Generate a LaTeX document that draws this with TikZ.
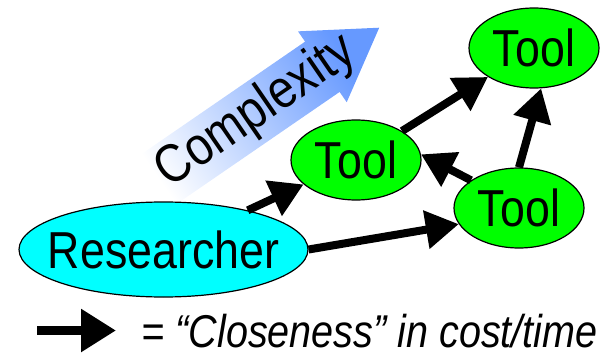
\documentclass[tikz,border=0pt]{standalone}
\usepackage{fontspec}
\setmainfont{Liberation Sans}[FakeStretch=0.86]
\usetikzlibrary{shapes.geometric,arrows.meta}

\definecolor{cplx}{HTML}{6699FF}
\definecolor{rescyan}{RGB}{0,255,255}
\definecolor{toolgreen}{RGB}{0,255,0}
\tikzset{
  blob/.style={ellipse, draw=black, line width=1.2pt, inner sep=0pt,
    font=\fontsize{52pt}{52pt}\selectfont},
  tool/.style={blob, fill=toolgreen, minimum width=130pt, minimum height=80pt},
  near/.style={line width=8pt, -{Triangle[length=33pt,width=37pt]}},
}

\begin{document}
\begin{tikzpicture}[x=1pt,y=-1pt]
    \useasboundingbox (0,0) rectangle (601,355);

    \begin{scope}[shift={(146,188)},rotate=34.5]
        \shade [bottom color=white, top color=cplx, shading angle=-55.5]
            (0,-30.5) -- (214,-30.5) -- (214,-43) -- (283,0) -- (214,43) -- (214,30.5) -- (0,30.5) -- cycle;
        \node [transform shape, font=\fontsize{54pt}{54pt}\selectfont] (cx) at (134,0) {Complexity};
    \end{scope}

    \node [blob, fill=rescyan, minimum width=289pt, minimum height=95pt] (res) at (163.5,249.5) {\makebox[0pt]{Researcher}};
    \node [tool] (toolM) at (356,160) {\makebox[0pt]{Tool}};
    \node [tool] (toolT) at (534,48) {\makebox[0pt]{Tool}};
    \node [tool] (toolR) at (519,208) {\makebox[0pt]{Tool}};

    \draw [near] (res) -- (toolM);
    \draw [near] (res.east) -- (toolR.195);
    \draw [near] (toolM) -- (toolT);
    \draw [near] (toolR.150) -- (toolM.5);
    \draw [near] (toolR.north) -- (toolT.-80);

    \coordinate (keyA) at (37,330.5);
    \coordinate (keyB) at (116,330.5);
    \draw [near, line width=9pt, -{Triangle[length=35pt,width=41pt]}] (keyA) -- (keyB);
    \node [anchor=base west, font=\fontsize{46pt}{46pt}\selectfont\itshape] (key) at (138,347) {= “Closeness” in cost/time};
\end{tikzpicture}
\end{document}
